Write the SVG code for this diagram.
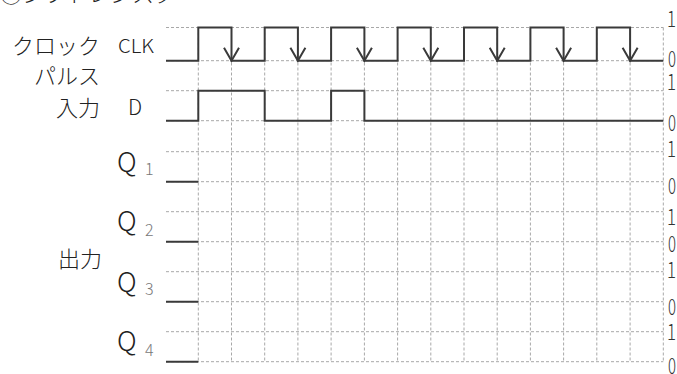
<svg xmlns="http://www.w3.org/2000/svg" width="677" height="374" viewBox="0 0 677 374">
<style>
.grid{stroke:#a8a8a8;stroke-width:1;stroke-dasharray:3 2;fill:none}
.wave{stroke:#3a3a3a;stroke-width:2;fill:none}
.jp{font-family:"Noto Sans CJK JP","Noto Sans",sans-serif;font-size:22px;font-weight:300;fill:#222}
.lat{font-family:"Noto Sans CJK JP","Noto Sans",sans-serif;font-weight:300;fill:#222}
.q{font-size:27px}
.sub{font-size:16px;fill:#777}
.num{font-family:"Noto Sans CJK JP","Noto Sans",sans-serif;font-weight:300;font-size:22px;fill:#333}
</style>
<rect width="677" height="374" fill="#fff"/>
<text class="jp" x="0" y="1.5">①シフトレジスタ</text>
<g id="grid">
<path class="grid" d="M166,27.5H663.3M166,60.7H663.3M166,90.7H663.3M166,120.7H663.3M166,151.7H663.3M166,181.7H663.3M166,211.7H663.3M166,241.7H663.3M166,271.7H663.3M166,301.7H663.3M166,331.7H663.3M166,361.7H663.3"/>
<path class="grid" d="M198.3,27.5V361.7M231.5,27.5V361.7M264.7,27.5V361.7M297.9,27.5V361.7M331.1,27.5V361.7M364.4,27.5V361.7M397.6,27.5V361.7M430.8,27.5V361.7M464,27.5V361.7M497.2,27.5V361.7M530.4,27.5V361.7M563.6,27.5V361.7M596.8,27.5V361.7M630.1,27.5V361.7M663.3,27.5V361.7"/>
</g>
<g id="labels">
<text class="jp" x="12" y="54">クロック</text>
<text class="lat" x="118" y="53" font-size="19" textLength="36" lengthAdjust="spacingAndGlyphs">CLK</text>
<text class="jp" x="34" y="84">パルス</text>
<text class="jp" x="56" y="116">入力</text>
<text class="lat" x="128" y="115" font-size="21">D</text>
<text class="jp" x="58" y="267">出力</text>
<text class="lat q" x="117" y="172">Q</text><text class="lat sub" x="145" y="175">1</text>
<text class="lat q" x="117" y="231">Q</text><text class="lat sub" x="145" y="236">2</text>
<text class="lat q" x="117" y="292">Q</text><text class="lat sub" x="145" y="295">3</text>
<text class="lat q" x="117" y="351">Q</text><text class="lat sub" x="145" y="356">4</text>
</g>
<g id="levels">
<text class="num" x="667" y="27" textLength="9" lengthAdjust="spacingAndGlyphs">1</text>
<text class="num" x="668" y="66.5" textLength="8" lengthAdjust="spacingAndGlyphs">0</text>
<text class="num" x="667" y="90" textLength="9" lengthAdjust="spacingAndGlyphs">1</text>
<text class="num" x="668" y="131" textLength="8" lengthAdjust="spacingAndGlyphs">0</text>
<text class="num" x="667" y="156.5" textLength="9" lengthAdjust="spacingAndGlyphs">1</text>
<text class="num" x="668" y="194" textLength="8" lengthAdjust="spacingAndGlyphs">0</text>
<text class="num" x="667" y="224.5" textLength="9" lengthAdjust="spacingAndGlyphs">1</text>
<text class="num" x="668" y="252" textLength="8" lengthAdjust="spacingAndGlyphs">0</text>
<text class="num" x="667" y="278" textLength="9" lengthAdjust="spacingAndGlyphs">1</text>
<text class="num" x="668" y="315" textLength="8" lengthAdjust="spacingAndGlyphs">0</text>
<text class="num" x="667" y="339.5" textLength="9" lengthAdjust="spacingAndGlyphs">1</text>
<text class="num" x="668" y="374" textLength="8" lengthAdjust="spacingAndGlyphs">0</text>
</g>
<g id="connectors">
<path id="clk" class="wave" d="M166,60.7H198.3V27.5H231.5V60.7H264.7V27.5H297.9V60.7H331.1V27.5H364.4V60.7H397.6V27.5H430.8V60.7H464V27.5H497.2V60.7H530.4V27.5H563.6V60.7H596.8V27.5H630.1V60.7H663.3"/>
<path id="arrows" class="wave" d="M224,47.7L231.5,60.7L239,47.7M290.4,47.7L297.9,60.7L305.4,47.7M356.9,47.7L364.4,60.7L371.9,47.7M423.3,47.7L430.8,60.7L438.3,47.7M489.7,47.7L497.2,60.7L504.7,47.7M556.1,47.7L563.6,60.7L571.1,47.7M622.6,47.7L630.1,60.7L637.6,47.7"/>
<path id="d" class="wave" d="M166,120.7H198.3V90.7H264.7V120.7H331.1V90.7H364.4V120.7H663.3"/>
<path id="q1" class="wave" d="M166,181.7H198.3"/>
<path id="q2" class="wave" d="M166,241.7H198.3"/>
<path id="q3" class="wave" d="M166,301.7H198.3"/>
<path id="q4" class="wave" d="M166,361.7H198.3"/>
</g>
</svg>
